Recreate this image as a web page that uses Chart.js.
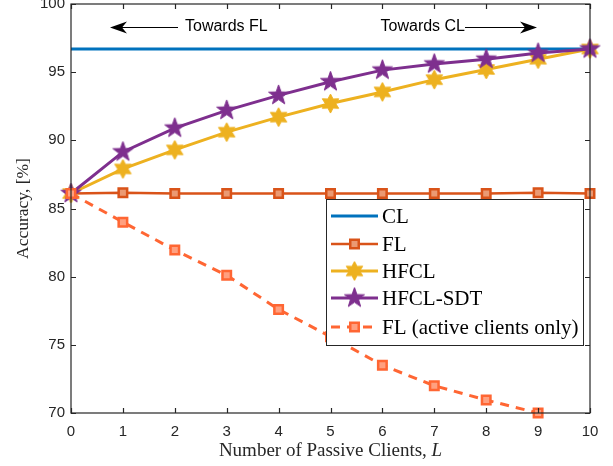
<!DOCTYPE html>
<html>
<head>
<meta charset="utf-8">
<script src="https://cdn.jsdelivr.net/npm/chart.js@4.4.1/dist/chart.umd.min.js"></script>
<style>
  html, body { margin: 0; padding: 0; background: #fff; }
  #wrap { width: 613px; height: 466px; position: relative; }
</style>
</head>
<body>
<div id="wrap"><canvas id="accChart"></canvas></div>
<script>
// data
const passiveClients = [0, 1, 2, 3, 4, 5, 6, 7, 8, 9, 10];
const clAcc = [96.7, 96.7, 96.7, 96.7, 96.7, 96.7, 96.7, 96.7, 96.7, 96.7, 96.7];
const flAcc = [86.1, 86.15, 86.1, 86.1, 86.1, 86.1, 86.1, 86.1, 86.1, 86.15, 86.1];
const hfclAcc = [86.1, 87.9, 89.3, 90.6, 91.7, 92.7, 93.55, 94.45, 95.2, 95.95, 96.7];
const hfclSdtAcc = [86.1, 89.15, 90.9, 92.2, 93.3, 94.3, 95.15, 95.6, 95.95, 96.4, 96.7];
const flActiveAcc = [86.1, 84.0, 81.95, 80.1, 77.6, 75.6, 73.5, 72.0, 70.95, 70.0, null];
const seriesNames = ["CL", "FL", "HFCL", "HFCL-SDT", "FL (active clients only)"];
const xTicks = [0, 1, 2, 3, 4, 5, 6, 7, 8, 9, 10];
const yTicks = [70, 75, 80, 85, 90, 95, 100];

const SERIF = "'Liberation Serif', 'Times New Roman', serif";
const SANS = "'Liberation Sans', Arial, sans-serif";
const AXIS_COLOR = "#262626";

// star shaped markers (pentagram / hexagram) as small canvases
function makeStar(points, outer, inner, fill) {
  const size = Math.ceil(outer * 2 + 4);
  const c = document.createElement("canvas");
  c.width = size;
  c.height = size;
  const g = c.getContext("2d");
  g.translate(size / 2, size / 2);
  g.beginPath();
  for (let i = 0; i < points * 2; i++) {
    const r = i % 2 === 0 ? outer : inner;
    const a = -Math.PI / 2 + (i * Math.PI) / points;
    g.lineTo(r * Math.cos(a), r * Math.sin(a));
  }
  g.closePath();
  g.fillStyle = fill;
  g.fill();
  g.lineWidth = 1;
  g.strokeStyle = fill;
  g.stroke();
  return c;
}

const pentagram = makeStar(5, 10.5, 4.2, "#7E2F8E");
const hexagram = makeStar(6, 9.5, 5.2, "#EDB120");

function toPoints(values) {
  return passiveClients.map((x, i) => ({ x: x, y: values[i] }));
}

const datasets = [
  {
    label: seriesNames[0],
    data: toPoints(clAcc),
    borderColor: "#0072BD",
    borderWidth: 3,
    pointRadius: 0,
    order: 5,
  },
  {
    label: seriesNames[1],
    data: toPoints(flAcc),
    borderColor: "#D95319",
    backgroundColor: "#EB9A73",
    borderWidth: 2.5,
    pointStyle: "rect",
    pointRadius: 6,
    pointBorderWidth: 2.5,
    order: 4,
  },
  {
    label: seriesNames[2],
    data: toPoints(hfclAcc),
    borderColor: "#EDB120",
    borderWidth: 3,
    pointStyle: hexagram,
    order: 3,
  },
  {
    label: seriesNames[3],
    data: toPoints(hfclSdtAcc),
    borderColor: "#7E2F8E",
    borderWidth: 3,
    pointStyle: pentagram,
    order: 2,
  },
  {
    label: seriesNames[4],
    data: toPoints(flActiveAcc),
    borderColor: "#FF6633",
    backgroundColor: "#FFA080",
    borderWidth: 3,
    borderDash: [9, 7],
    pointStyle: "rect",
    pointRadius: 6,
    pointBorderWidth: 2.5,
    order: 1,
  },
];
datasets.forEach((d) => {
  d.fill = false;
  d.tension = 0;
  d.clip = false;
  d.spanGaps = false;
  if (!d.backgroundColor) d.backgroundColor = d.borderColor;
  d.pointBorderColor = d.borderColor;
  d.pointBackgroundColor = d.backgroundColor;
});

// box with inward ticks on all four sides, like the original plot
const framePlugin = {
  id: "frame",
  afterDatasetsDraw(chart) {
    const { ctx, chartArea: a, scales } = chart;
    ctx.save();
    ctx.strokeStyle = AXIS_COLOR;
    ctx.lineWidth = 1.2;
    ctx.strokeRect(a.left, a.top, a.right - a.left, a.bottom - a.top);
    const len = 5;
    ctx.beginPath();
    xTicks.forEach((v) => {
      const px = Math.round(scales.x.getPixelForValue(v)) + 0.5;
      ctx.moveTo(px, a.bottom);
      ctx.lineTo(px, a.bottom - len);
      ctx.moveTo(px, a.top);
      ctx.lineTo(px, a.top + len);
    });
    yTicks.forEach((v) => {
      const py = Math.round(scales.y.getPixelForValue(v)) + 0.5;
      ctx.moveTo(a.left, py);
      ctx.lineTo(a.left + len, py);
      ctx.moveTo(a.right, py);
      ctx.lineTo(a.right - len, py);
    });
    ctx.stroke();
    ctx.restore();
  },
  afterDraw(chart) {
    const { ctx, chartArea: a } = chart;
    ctx.save();

    // x axis title with italic L
    ctx.fillStyle = AXIS_COLOR;
    ctx.textBaseline = "middle";
    const part1 = "Number of Passive Clients, ";
    ctx.font = "19px " + SERIF;
    const w1 = ctx.measureText(part1).width;
    ctx.font = "italic 19px " + SERIF;
    const w2 = ctx.measureText("L").width;
    const cx = (a.left + a.right) / 2;
    const tx = cx - (w1 + w2) / 2;
    ctx.textAlign = "left";
    ctx.font = "19px " + SERIF;
    ctx.fillText(part1, tx, 451);
    ctx.font = "italic 19px " + SERIF;
    ctx.fillText("L", tx + w1, 451);

    // arrows "Towards FL" / "Towards CL"
    const ay = 27;
    ctx.strokeStyle = "#000";
    ctx.fillStyle = "#000";
    ctx.lineWidth = 1;
    ctx.beginPath();
    ctx.moveTo(178, ay + 0.5);
    ctx.lineTo(118, ay + 0.5);
    ctx.moveTo(465, ay + 0.5);
    ctx.lineTo(528, ay + 0.5);
    ctx.stroke();
    drawHead(ctx, 110, ay + 0.5, -1);
    drawHead(ctx, 537, ay + 0.5, 1);
    ctx.font = "16px " + SANS;
    ctx.textBaseline = "middle";
    ctx.textAlign = "left";
    ctx.fillText("Towards FL", 185, ay);
    ctx.textAlign = "right";
    ctx.fillText("Towards CL", 465, ay);

    // legend box inside the axes
    const lx = 326, ly = 199, lw = 257, lh = 146;
    ctx.fillStyle = "#fff";
    ctx.fillRect(lx, ly, lw, lh);
    ctx.strokeStyle = AXIS_COLOR;
    ctx.lineWidth = 1;
    ctx.strokeRect(lx + 0.5, ly + 0.5, lw, lh);
    const rowY = [216, 244, 271, 298, 327];
    chart.data.datasets.forEach((d, i) => {
      const y = rowY[i];
      ctx.save();
      ctx.strokeStyle = d.borderColor;
      ctx.lineWidth = d.borderWidth;
      ctx.setLineDash(d.borderDash || []);
      ctx.beginPath();
      ctx.moveTo(331, y);
      ctx.lineTo(378, y);
      ctx.stroke();
      ctx.restore();
      const mx = 354.5;
      if (d.pointStyle instanceof HTMLCanvasElement) {
        ctx.drawImage(d.pointStyle, mx - d.pointStyle.width / 2, y - d.pointStyle.height / 2);
      } else if (d.pointStyle === "rect") {
        const s = d.pointRadius * Math.SQRT1_2;
        ctx.fillStyle = d.backgroundColor;
        ctx.strokeStyle = d.borderColor;
        ctx.lineWidth = d.pointBorderWidth;
        ctx.fillRect(mx - s, y - s, 2 * s, 2 * s);
        ctx.strokeRect(mx - s, y - s, 2 * s, 2 * s);
      }
      ctx.fillStyle = "#000";
      ctx.font = "21px " + SERIF;
      ctx.textAlign = "left";
      ctx.textBaseline = "middle";
      ctx.fillText(d.label, 382, y + 1);
    });
    ctx.restore();
  },
};

function drawHead(ctx, x, y, dir) {
  ctx.beginPath();
  ctx.moveTo(x, y);
  ctx.lineTo(x - dir * 17, y - 6);
  ctx.lineTo(x - dir * 12, y);
  ctx.lineTo(x - dir * 17, y + 6);
  ctx.closePath();
  ctx.fill();
}

new Chart(document.getElementById("accChart"), {
  type: "line",
  data: { datasets: datasets },
  options: {
    responsive: true,
    maintainAspectRatio: false,
    animation: false,
    layout: { autoPadding: false, padding: { left: 0, top: 4, right: 23, bottom: 0 } },
    plugins: {
      legend: { display: false },
      tooltip: { enabled: false },
    },
    scales: {
      x: {
        type: "linear",
        min: 0,
        max: 10,
        afterFit: (s) => {
          s.height = 53;
          s.paddingLeft = 0;
          s.paddingRight = 0;
        },
        afterBuildTicks: (s) => { s.ticks = xTicks.map((v) => ({ value: v })); },
        grid: { display: false, drawTicks: false },
        border: { display: false },
        ticks: {
          padding: 10,
          color: AXIS_COLOR,
          font: { family: SANS, size: 15 },
          maxRotation: 0,
        },
      },
      y: {
        min: 70,
        max: 100,
        afterFit: (s) => {
          s.width = 71;
          s.paddingTop = 0;
          s.paddingBottom = 0;
        },
        afterBuildTicks: (s) => { s.ticks = yTicks.map((v) => ({ value: v })); },
        grid: { display: false, drawTicks: false },
        border: { display: false },
        ticks: {
          padding: 6,
          color: AXIS_COLOR,
          font: { family: SANS, size: 15 },
        },
        title: {
          display: true,
          text: "Accuracy, [%]",
          color: AXIS_COLOR,
          font: { family: SERIF, size: 17.5 },
          padding: { top: 13, bottom: 0 },
        },
      },
    },
  },
  plugins: [framePlugin],
});
</script>
</body>
</html>
